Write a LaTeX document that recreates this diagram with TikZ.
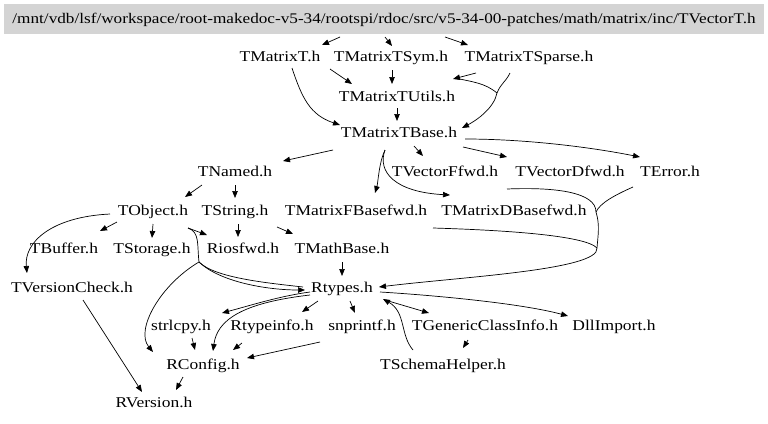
\documentclass[tikz,border=0pt]{standalone}
\usepackage{fontspec}
\setmainfont{Liberation Serif}[FakeStretch=1.17]
\usetikzlibrary{arrows.meta}
\definecolor{hdrgray}{gray}{0.83}

\tikzstyle{file} = [inner sep=0pt, text height=11bp, text depth=3bp, font=\fontsize{15}{18}\selectfont]
\tikzstyle{hdr} = [file, fill=hdrgray, minimum width=760bp, minimum height=30bp, font=\fontsize{14.75}{18}\selectfont]
\tikzstyle{dep} = [line width=0.7bp, -{Triangle[length=7bp,width=5.5bp]}]
\tikzstyle{lnk} = [line width=0.7bp]

\begin{document}
\begin{tikzpicture}[x=1bp,y=-1bp]
\useasboundingbox (0,0) rectangle (768,423);
\node [hdr] (vect) at (384,19) {/mnt/vdb/lsf/workspace/root-makedoc-v5-34/rootspi/rdoc/src/v5-34-00-patches/math/matrix/inc/TVectorT.h};
\node [file] (mt) at (280,57) {TMatrixT.h};
\node [file] (mtsym) at (391,57) {TMatrixTSym.h};
\node [file] (mtsparse) at (529,57) {TMatrixTSparse.h};
\node [file] (mtutils) at (397,97) {TMatrixTUtils.h};
\node [file] (mtbase) at (399,133) {TMatrixTBase.h};
\node [file] (named) at (235,172) {TNamed.h};
\node [file] (vff) at (445,172) {TVectorFfwd.h};
\node [file] (vdf) at (570,172) {TVectorDfwd.h};
\node [file] (err) at (670,172) {TError.h};
\node [file] (obj) at (153,211) {TObject.h};
\node [file] (str) at (235,211) {TString.h};
\node [file] (mfb) at (356,211) {TMatrixFBasefwd.h};
\node [file] (mdb) at (514,211) {TMatrixDBasefwd.h};
\node [file] (buf) at (64,249) {TBuffer.h};
\node [file] (stor) at (152,249) {TStorage.h};
\node [file] (ios) at (243,249) {Riosfwd.h};
\node [file] (mathb) at (342,249) {TMathBase.h};
\node [file] (vcheck) at (72,288) {TVersionCheck.h};
\node [file] (rtypes) at (342,288) {Rtypes.h};
\node [file] (strl) at (181,326) {strlcpy.h};
\node [file] (rti) at (272,326) {Rtypeinfo.h};
\node [file] (snp) at (362,326) {snprintf.h};
\node [file] (gci) at (485,326) {TGenericClassInfo.h};
\node [file] (dll) at (614,326) {DllImport.h};
\node [file] (rconf) at (203,365) {RConfig.h};
\node [file] (schema) at (443,365) {TSchemaHelper.h};
\node [file] (rver) at (154,403) {RVersion.h};

\coordinate (jsp) at (497,93);
\coordinate (jobj) at (199,262);
\coordinate (ja) at (596,212);
\coordinate (jb) at (597,248);

\draw [dep] ([shift={(-44,18)}]vect.center) -- ([shift={(42,-12)}]mt.center);
\draw [dep] ([shift={(1,18)}]vect.center) -- ([shift={(1,-11)}]mtsym.center);
\draw [dep] ([shift={(61,18)}]vect.center) -- ([shift={(-61,-12)}]mtsparse.center);
\draw [dep] ([shift={(50,12)}]mt.center) -- ([shift={(-45,-13)}]mtutils.center);
\draw [dep] ([shift={(12,11)}]mt.center) .. controls +(10,30) and +(-30,-10) .. ([shift={(-59,-8)}]mtbase.center);
\draw [dep] ([shift={(1,13)}]mtsym.center) -- ([shift={(-5,-13)}]mtutils.center);
\draw [dep] ([shift={(-53,16)}]mtsparse.center) -- ([shift={(56,-18)}]mtutils.center);
\draw [lnk] (jsp) .. controls +(-12,-10) and +(18,4) .. ([shift={(58,-19)}]mtutils.center);
\draw [dep] ([shift={(-19,16)}]mtsparse.center) .. controls +(-5,10) and +(4,-10) .. (jsp) .. controls +(-3,15) and +(15,-8) .. ([shift={(63,-5)}]mtbase.center);
\draw [dep] ([shift={(0,11)}]mtutils.center) -- ([shift={(-2,-12)}]mtbase.center);
\draw [dep] ([shift={(-66,17)}]mtbase.center) -- ([shift={(48,-11)}]named.center);
\draw [dep] ([shift={(15,13)}]mtbase.center) -- ([shift={(-22,-16)}]vff.center);
\draw [dep] ([shift={(64,14)}]mtbase.center) -- ([shift={(-63,-15)}]vdf.center);
\draw [dep] ([shift={(66,6)}]mtbase.center) .. controls +(60,0) and +(-50,-10) .. ([shift={(-30,-15)}]err.center);
\draw [dep] ([shift={(-14,17)}]mtbase.center) .. controls +(-6,12) and +(3,-10) .. ([shift={(19,-18)}]mfb.center);
\draw [dep] ([shift={(-14,17)}]mtbase.center) .. controls +(-8,22) and +(-55,-3) .. ([shift={(-64,-16)}]mdb.center);
\draw [dep] ([shift={(-33,13)}]named.center) -- ([shift={(32,-14)}]obj.center);
\draw [dep] ([shift={(0,13)}]named.center) -- ([shift={(0,-13)}]str.center);
\draw [dep] ([shift={(-36,11)}]obj.center) -- ([shift={(36,-18)}]buf.center);
\draw [dep] ([shift={(0,13)}]obj.center) -- ([shift={(0,-11)}]stor.center);
\draw [dep] ([shift={(35,17)}]obj.center) -- ([shift={(-36,-14)}]ios.center);
\draw [dep] ([shift={(-43,3)}]obj.center) .. controls +(-60,3) and +(-3,-30) .. ([shift={(-45,-15)}]vcheck.center);
\draw [lnk] ([shift={(35,17)}]obj.center) .. controls +(12,4) and +(-2,-17) .. (jobj);
\draw [lnk] (jobj) .. controls +(16,16) and +(-35,-4) .. ([shift={(-39,-1)}]rtypes.center);
\draw [dep] (jobj) .. controls +(21,20) and +(-38,0) .. ([shift={(-37,2)}]rtypes.center);
\draw [dep] (jobj) .. controls +(-39,23) and +(-18,-22) .. ([shift={(-50,-13)}]rconf.center);
\draw [dep] ([shift={(3,13)}]str.center) -- ([shift={(-5,-12)}]ios.center);
\draw [dep] ([shift={(42,16)}]str.center) -- ([shift={(-49,-15)}]mathb.center);
\draw [dep] ([shift={(0,13)}]mathb.center) -- ([shift={(0,-12)}]rtypes.center);
\draw [lnk] ([shift={(-63,17)}]vdf.center) .. controls +(48,-2) and +(0,-20) .. (ja);
\draw [lnk] ([shift={(-37,15)}]err.center) .. controls +(-18,8) and +(4,-9) .. (ja);
\draw [lnk] (ja) .. controls +(4,13) and +(1,-13) .. (jb);
\draw [lnk] ([shift={(-81,17)}]mdb.center) .. controls +(67,2) and +(-12,-13) .. (jb);
\draw [dep] (jb) .. controls +(3,22) and +(81,-10) .. ([shift={(37,-1)}]rtypes.center);
\draw [dep] ([shift={(-32,4)}]rtypes.center) .. controls +(-30,4) and +(30,-8) .. ([shift={(41,-13)}]strl.center);
\draw [dep] ([shift={(-32,7)}]rtypes.center) .. controls +(-70,8) and +(4,-30) .. ([shift={(10,-14)}]rconf.center);
\draw [dep] ([shift={(-24,13)}]rtypes.center) -- ([shift={(30,-14)}]rti.center);
\draw [dep] ([shift={(8,13)}]rtypes.center) -- ([shift={(-7,-13)}]snp.center);
\draw [dep] ([shift={(43,12)}]rtypes.center) -- ([shift={(-56,-13)}]gci.center);
\draw [dep] ([shift={(-30,-15)}]schema.center) .. controls +(-13,-15) and +(23,13) .. ([shift={(41,11)}]rtypes.center);
\draw [dep] ([shift={(38,4)}]rtypes.center) .. controls +(50,3) and +(-48,-13) .. ([shift={(-46,-10)}]dll.center);
\draw [dep] ([shift={(-17,14)}]gci.center) -- ([shift={(20,-17)}]schema.center);
\draw [dep] ([shift={(11,12)}]strl.center) -- ([shift={(-8,-15)}]rconf.center);
\draw [dep] ([shift={(-30,17)}]rti.center) -- ([shift={(30,-15)}]rconf.center);
\draw [dep] ([shift={(-42,16)}]snp.center) -- ([shift={(44,-7)}]rconf.center);
\draw [dep] ([shift={(11,12)}]vcheck.center) -- ([shift={(-12,-11)}]rver.center);
\draw [dep] ([shift={(-20,12)}]rconf.center) -- ([shift={(22,-13)}]rver.center);
\end{tikzpicture}
\end{document}
